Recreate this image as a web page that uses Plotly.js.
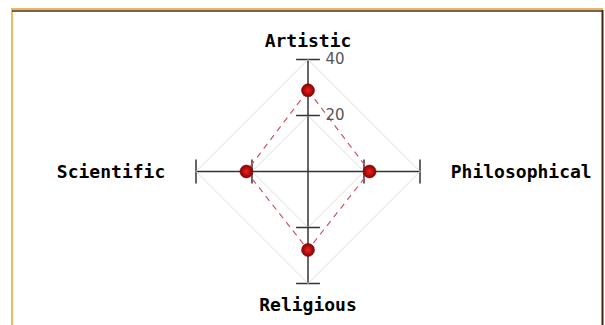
<!DOCTYPE html>
<html>
<head>
<meta charset="utf-8">
<script src="https://cdn.plot.ly/plotly-3.0.1.min.js"></script>
<style>html,body{margin:0;padding:0;background:#fff;}#chart{width:605px;height:325px;}</style>
</head>
<body>
<div id="chart"></div>
<script>
// Data
var categories = ["Artistic", "Philosophical", "Religious", "Scientific"];
var categoryLabels = ["Artistic", "  Philosophical", "Religious", "Scientific  "];
var values = [29, 22, 28, 22];
var tickValues = [20, 40];
var tickLabels = ["20", "40"];
var rangeMax = 40;

// closed polygon
var rClosed = values.concat([values[0]]);
var tClosed = categories.concat([categories[0]]);

// axis end caps / ticks on each spoke
var capR = [], capT = [], capSym = [];
categories.forEach(function (c, i) {
  tickValues.forEach(function (v) {
    capR.push(v);
    capT.push(c);
    capSym.push(i % 2 === 0 ? "line-ew" : "line-ns");
  });
});

var traces = [
  {
    type: "scatterpolar",
    r: capR,
    theta: capT,
    mode: "markers",
    marker: { symbol: capSym, size: 17, color: "#333", line: { color: "#333", width: 1.5 } },
    hoverinfo: "skip",
    showlegend: false
  },
  {
    type: "scatterpolar",
    r: rClosed,
    theta: tClosed,
    mode: "lines",
    line: { color: "#d05565", width: 1.2, dash: "6px,5px" },
    hoverinfo: "skip",
    showlegend: false
  },
  {
    type: "scatterpolar",
    r: values,
    theta: categories,
    mode: "markers",
    marker: {
      size: 13,
      color: "#8a0000",
      gradient: { type: "radial", color: "#f02020" },
      line: { color: "#700000", width: 0.5 }
    },
    showlegend: false
  }
];

var layout = {
  width: 605,
  height: 325,
  margin: { l: 0, r: 0, t: 0, b: 0 },
  paper_bgcolor: "#ffffff",
  showlegend: false,
  polar: {
    domain: { x: [196 / 605, 420 / 605], y: [41.5 / 325, 265.5 / 325] },
    bgcolor: "rgba(0,0,0,0)",
    gridshape: "linear",
    radialaxis: {
      range: [0, rangeMax],
      angle: 90,
      tickvals: tickValues,
      ticktext: tickLabels,
      tickangle: 90,
      ticks: "outside",
      ticklen: 14,
      tickcolor: "rgba(0,0,0,0)",
      showline: false,
      showgrid: true,
      gridcolor: "#dcdcdc",
      gridwidth: 1,
      tickfont: { family: "DejaVu Sans", size: 15, color: "#555" },
      side: "clockwise"
    },
    angularaxis: {
      categoryarray: categories,
      tickvals: categories,
      ticktext: categoryLabels,
      rotation: 90,
      direction: "clockwise",
      showline: true,
      linecolor: "#dcdcdc",
      linewidth: 1,
      showgrid: true,
      gridcolor: "#333",
      gridwidth: 1.5,
      ticks: "outside",
      ticklen: 5,
      tickcolor: "rgba(0,0,0,0)",
      tickfont: { family: "DejaVu Sans Mono", size: 18, color: "#000", weight: "bold" }
    }
  },
  shapes: [
    { type: "line", xref: "paper", yref: "paper", x0: 12 / 605, x1: 12 / 605, y0: 0, y1: 315 / 325, line: { color: "#f0b860", width: 2 } },
    { type: "line", xref: "paper", yref: "paper", x0: 11 / 605, x1: 603 / 605, y0: 316 / 325, y1: 316 / 325, line: { color: "#e89a30", width: 1.5 } },
    { type: "line", xref: "paper", yref: "paper", x0: 12 / 605, x1: 603 / 605, y0: 314 / 325, y1: 314 / 325, line: { color: "#4a3010", width: 1.5 } },
    { type: "line", xref: "paper", yref: "paper", x0: 602.5 / 605, x1: 602.5 / 605, y0: 0, y1: 315 / 325, line: { color: "#3a2810", width: 2 } }
  ]
};

Plotly.newPlot("chart", traces, layout, { displayModeBar: false, staticPlot: true });
</script>
</body>
</html>
